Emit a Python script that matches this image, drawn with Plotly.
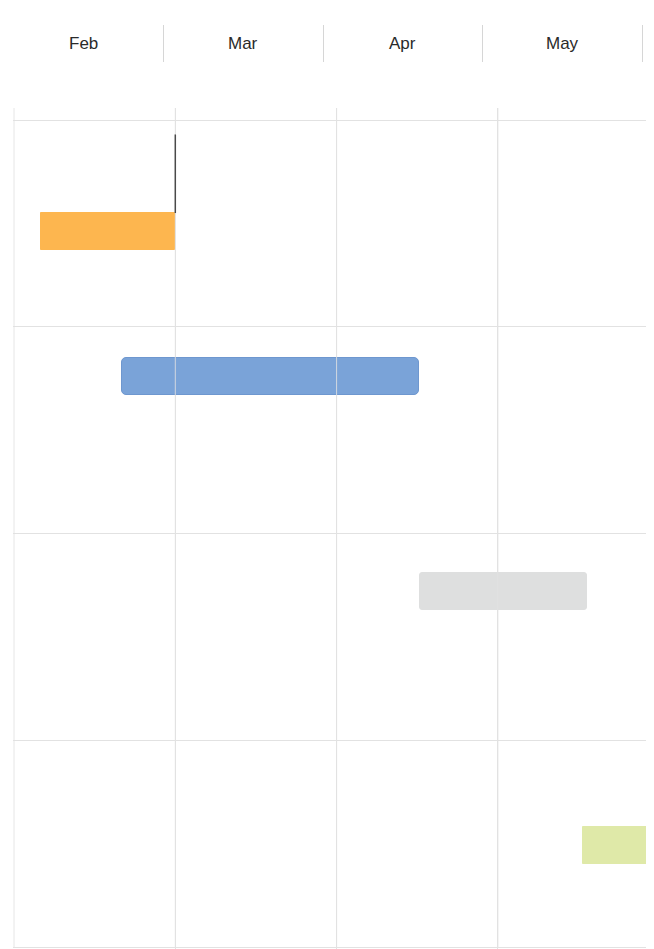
import plotly.graph_objects as go

# ---- data ----
months = ["Feb", "Mar", "Apr", "May"]
tasks = ["Task A", "Task B", "Task C", "Task D"]
task_start = [0.17, 0.67, 2.52, 3.53]      # months elapsed since 1 Feb
task_end = [1.00, 2.51, 3.55, 4.30]
task_lane = [0.54, 1.24, 2.28, 3.51]       # vertical position in row units (row k spans k..k+1)
task_colors = ["#FDB64F", "#7AA3D8", "#DEDFDF", "#DFE9A8"]
task_corner = [0, 5, 3, 0]
link_top = 0.07                            # top of the dependency line above task A

# ---- layout constants (page body has an 8px margin) ----
OFF = 8
W, H = 654 - OFF, 949 - OFF
bar_h = 0.18
px_month_main, left_main = 161.3, 14 - OFF
px_month_head, left_head = 159.5, 4 - OFF
row_top_px, row_bot_px = 120 - OFF, 947 - OFF
px_row = (row_bot_px - row_top_px) / len(tasks)
plot_top_px = 108 - OFF
head_top_px, head_bot_px = 25 - OFF, 62 - OFF
grid_col = "#e2e2e2"
pad = 1  # px of plot area kept left of the first month line

fig = go.Figure()

for i in range(len(tasks)):
    fig.add_trace(go.Bar(
        y=[task_lane[i]], x=[task_end[i] - task_start[i]], base=[task_start[i]],
        orientation="h", width=bar_h, name=tasks[i],
        marker=dict(color=task_colors[i], cornerradius=task_corner[i],
                    line=dict(color="#6E97CF" if i == 1 else task_colors[i], width=1)),
        xaxis="x", yaxis="y", showlegend=False, hoverinfo="skip",
    ))

# month grid redrawn above bars (light lines show through the bars)
for k in range(len(months)):
    fig.add_shape(type="line", xref="x", yref="y", x0=k, x1=k, y0=-0.06, y1=len(tasks),
                  line=dict(color="rgba(226,226,226,0.85)", width=1), layer="above")

# dependency line from the end of task A
fig.add_shape(type="line", xref="x", yref="y", x0=task_end[0], x1=task_end[0],
              y0=link_top, y1=task_lane[0] - bar_h / 2,
              line=dict(color="#4a4a4a", width=1.5), layer="above")

# header labels
for i, m in enumerate(months):
    fig.add_annotation(text=m, x=i + 0.5, y=0.5, xref="x2", yref="y2 domain",
                       showarrow=False, font=dict(family="Liberation Sans, Arial", size=17, color="#2a2a2a"))

fig.update_layout(
    width=W, height=H, margin=dict(l=0, r=0, t=0, b=0),
    paper_bgcolor="white", plot_bgcolor="white", bargap=0, barmode="overlay",
    xaxis=dict(domain=[(left_main - pad) / W, 1], anchor="y",
               range=[-pad / px_month_main, (W - left_main) / px_month_main],
               tick0=0, dtick=1, showgrid=True, gridcolor=grid_col, gridwidth=1,
               zeroline=False, showticklabels=False, ticks="", showline=False),
    yaxis=dict(domain=[0, 1 - plot_top_px / H], anchor="x",
               range=[(H - row_top_px) / px_row, -(row_top_px - plot_top_px) / px_row],
               tick0=0, dtick=1, showgrid=True, gridcolor=grid_col, gridwidth=1,
               zeroline=False, showticklabels=False, ticks="", showline=False),
    xaxis2=dict(domain=[0, 1], anchor="y2",
                range=[-left_head / px_month_head, (W - left_head) / px_month_head],
                tickmode="array", tickvals=list(range(1, len(months) + 1)),
                showgrid=True, gridcolor="#d6d6d6", gridwidth=1.2,
                zeroline=False, showticklabels=False, ticks="", showline=False),
    yaxis2=dict(domain=[1 - head_bot_px / H, 1 - head_top_px / H], anchor="x2", range=[0, 1],
                showgrid=False, zeroline=False, showticklabels=False, ticks=""),
)

fig.write_html("out.html")
